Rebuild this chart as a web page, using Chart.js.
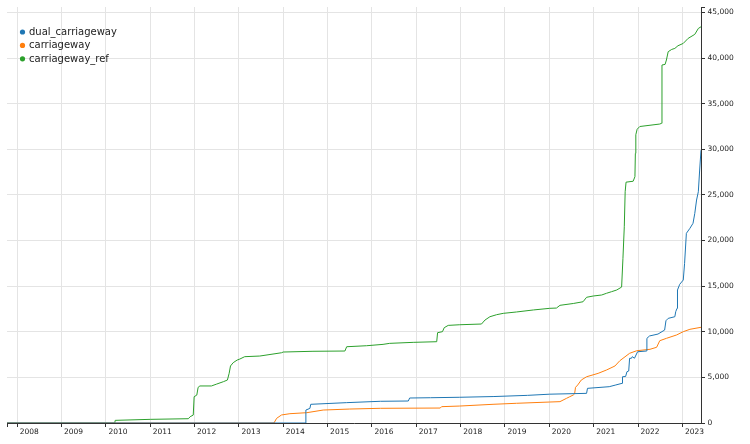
<!DOCTYPE html>
<html>
<head>
<meta charset="utf-8">
<script src="https://cdn.jsdelivr.net/npm/chart.js@4"></script>
<style>
  body { margin: 0; background: #fff; }
  canvas { display: block; }
</style>
</head>
<body>
<canvas id="chart" width="750" height="444"></canvas>
<script>
/*_____________________DATA____________________*/

const seriesNames = ['dual_carriageway', 'carriageway', 'carriageway_ref'];
const seriesColors = ['#1f77b4', '#ff7f0e', '#2ca02c'];

const yearTicks = [2008, 2009, 2010, 2011, 2012, 2013, 2014, 2015,
                   2016, 2017, 2018, 2019, 2020, 2021, 2022, 2023];
const valueTicks = [0, 5000, 10000, 15000, 20000, 25000, 30000, 35000, 40000, 45000];

const dualYears = [2007.77, 2014.51, 2014.51, 2014.60, 2014.62, 2015.43, 2016.19, 2016.82,
  2016.85, 2017.32, 2017.98, 2018.75, 2019.51, 2020.01, 2020.84, 2020.86, 2021.35,
  2021.50, 2021.64, 2021.65, 2021.72, 2021.75, 2021.79, 2021.81, 2021.85, 2021.87,
  2021.92, 2021.99, 2022.19, 2022.20, 2022.26, 2022.45, 2022.60, 2022.63, 2022.68,
  2022.83, 2022.85, 2022.88, 2022.89, 2022.94, 2023.02, 2023.05, 2023.09, 2023.17,
  2023.24, 2023.28, 2023.32, 2023.36, 2023.39, 2023.42];
const dualValues = [0, 0, 1420, 1600, 2050, 2230, 2380, 2410,
  2740, 2770, 2820, 2900, 3030, 3160, 3250, 3800, 3980,
  4170, 4350, 5070, 5100, 5620, 5700, 7090, 7090, 7270,
  7100, 7810, 7890, 9280, 9540, 9750, 10190, 11210, 11470,
  11650, 12200, 12570, 14580, 15200, 15670, 17500, 20790, 21340,
  21890, 22980, 24440, 25350, 27730, 29900];

const carriageYears = [2007.77, 2013.79, 2013.85, 2013.96, 2014.15, 2014.53, 2014.90, 2015.50,
  2016.19, 2017.54, 2017.57, 2017.98, 2018.73, 2019.26, 2020.01, 2020.24, 2020.39,
  2020.46, 2020.54, 2020.57, 2020.59, 2020.64, 2020.72, 2020.84, 2021.10, 2021.29,
  2021.48, 2021.59, 2021.81, 2021.97, 2022.27, 2022.42, 2022.49, 2022.64, 2022.87,
  2023.02, 2023.17, 2023.42];
const carriageValues = [0, 0, 510, 880, 1020, 1130, 1420, 1530,
  1610, 1640, 1790, 1860, 2050, 2160, 2300, 2340, 2710,
  2880, 3070, 3200, 3910, 4170, 4710, 5070, 5440, 5810,
  6250, 6830, 7640, 7920, 8080, 8300, 9020, 9280, 9650,
  10010, 10270, 10490];

const refYears = [2007.77, 2010.20, 2010.21, 2011.00, 2011.86, 2011.90, 2011.97, 2011.99,
  2012.05, 2012.08, 2012.12, 2012.38, 2012.50, 2012.65, 2012.74, 2012.78, 2012.81,
  2012.87, 2012.96, 2013.02, 2013.13, 2013.47, 2013.96, 2014.00, 2014.67, 2015.39,
  2015.43, 2015.88, 2016.25, 2016.40, 2016.93, 2017.46, 2017.48, 2017.59, 2017.63,
  2017.72, 2017.98, 2018.47, 2018.55, 2018.66, 2018.81, 2018.96, 2019.26, 2019.64,
  2020.01, 2020.16, 2020.24, 2020.54, 2020.76, 2020.84, 2020.99, 2021.18, 2021.29,
  2021.40, 2021.52, 2021.63, 2021.66, 2021.69, 2021.71, 2021.73, 2021.89, 2021.93,
  2021.94, 2021.95, 2021.98, 2022.04, 2022.49, 2022.53, 2022.54, 2022.61, 2022.64,
  2022.68, 2022.76, 2022.83, 2022.90, 2023.02, 2023.13, 2023.28, 2023.36, 2023.42];
const refValues = [0, 0, 290, 400, 470, 690, 870, 2880,
  3060, 3910, 4060, 4060, 4270, 4530, 4710, 5450, 6250,
  6610, 6900, 7010, 7270, 7340, 7700, 7780, 7860, 7890,
  8360, 8470, 8620, 8730, 8840, 8910, 9900, 10010, 10450,
  10700, 10770, 10850, 11290, 11650, 11870, 12020, 12170, 12390,
  12570, 12600, 12900, 13100, 13290, 13780, 13920, 14030, 14220,
  14390, 14580, 14900, 18050, 21510, 25350, 26400, 26500, 27000,
  29560, 31600, 32200, 32500, 32770, 32850, 39240, 39310, 39790,
  40700, 40950, 41060, 41350, 41610, 42160, 42600, 43250, 43430];

/*_____________________SETUP____________________*/

function toPoints(xs, ys) {
  return xs.map((x, i) => ({x: x, y: ys[i]}));
}

const allYears = [dualYears, carriageYears, refYears];
const allValues = [dualValues, carriageValues, refValues];

const chart_setup = {
  datasets: seriesNames.map((name, i) => ({
    label: name,
    data: toPoints(allYears[i], allValues[i]),
    borderColor: seriesColors[i],
    backgroundColor: seriesColors[i],
    borderWidth: 1,
    pointRadius: 0,
    fill: false,
    tension: 0
  }))
};

// legend drawn inside the plot, top left
const innerLegend = {
  id: 'innerLegend',
  afterDraw(chart) {
    const c = chart.ctx;
    c.save();
    c.font = '10px "DejaVu Sans"';
    c.textBaseline = 'middle';
    chart.data.datasets.forEach((ds, i) => {
      const y = 32 + i * 13.4;
      c.fillStyle = ds.borderColor;
      c.beginPath();
      c.arc(22.5, y, 2.6, 0, Math.PI * 2);
      c.fill();
      c.fillStyle = '#222';
      c.fillText(ds.label, 29, y + 0.5);
    });
    c.restore();
  }
};

// end ticks of the axis lines
const outerTicks = {
  id: 'outerTicks',
  afterDraw(chart) {
    const a = chart.chartArea;
    const c = chart.ctx;
    c.save();
    c.strokeStyle = '#333';
    c.lineWidth = 1;
    c.beginPath();
    c.moveTo(Math.round(a.left) + 0.5, a.bottom);
    c.lineTo(Math.round(a.left) + 0.5, a.bottom + 4);
    c.moveTo(a.right, Math.round(a.top) + 0.5);
    c.lineTo(a.right + 4, Math.round(a.top) + 0.5);
    c.stroke();
    c.restore();
  }
};

const tickFont = {family: 'DejaVu Sans', size: 7.5};

new Chart(document.getElementById('chart'), {
  type: 'line',
  data: chart_setup,
  options: {
    responsive: false,
    animation: false,
    layout: {padding: {left: 7, top: 7, right: 0, bottom: 0}},
    plugins: {
      legend: {display: false},
      tooltip: {enabled: false}
    },
    scales: {
      x: {
        type: 'linear',
        min: 2007.77,
        max: 2023.42,
        afterBuildTicks: s => { s.ticks = yearTicks.map(v => ({value: v})); },
        afterFit: s => { s.height = 21; },
        grid: {color: '#e4e4e4', tickColor: '#333', tickLength: 4},
        border: {color: '#333', width: 1},
        ticks: {
          font: tickFont,
          color: '#222',
          align: 'start',
          labelOffset: 2.5,
          padding: 1,
          autoSkip: false,
          maxRotation: 0,
          callback: v => String(v)
        }
      },
      y: {
        position: 'right',
        min: 0,
        max: 45600,
        afterBuildTicks: s => { s.ticks = valueTicks.map(v => ({value: v})); },
        afterFit: s => { s.width = 49; },
        grid: {color: '#e4e4e4', tickColor: '#333', tickLength: 4},
        border: {color: '#333', width: 1},
        ticks: {
          font: tickFont,
          color: '#222',
          padding: 2.5,
          callback: v => v.toLocaleString('en-US')
        }
      }
    }
  },
  plugins: [innerLegend, outerTicks]
});
</script>
</body>
</html>
